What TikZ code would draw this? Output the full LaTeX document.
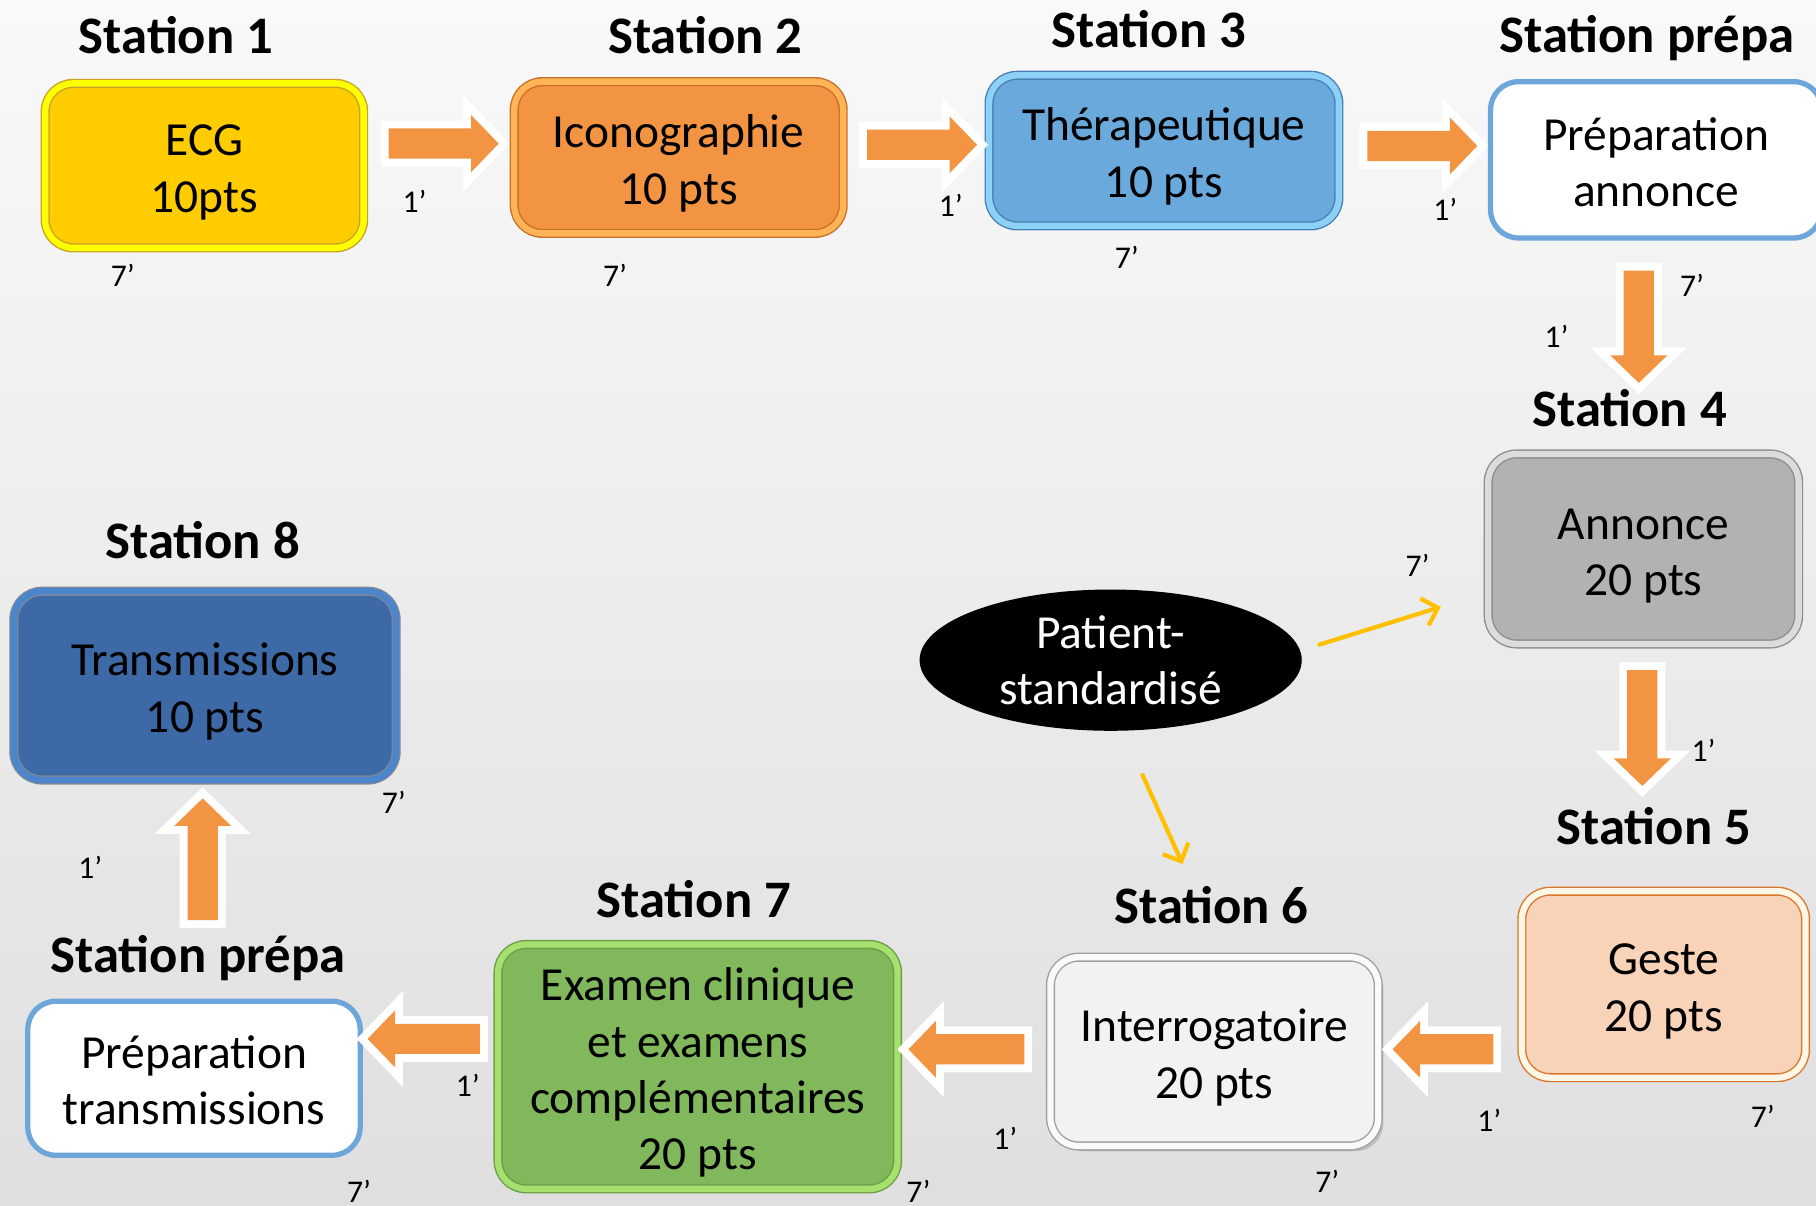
\documentclass[tikz,border=0pt]{standalone}
\usepackage{fontspec}
\setmainfont{Carlito}
\usetikzlibrary{shapes.geometric,shapes.arrows,arrows.meta,shadows}

\definecolor{bgtop}{HTML}{F9F9F9}
\definecolor{bgbottom}{HTML}{DFDFDF}
\definecolor{arroworange}{HTML}{F29442}
\definecolor{patyellow}{HTML}{FFC000}
\definecolor{ecgfill}{HTML}{FFCC00}
\definecolor{ecginner}{HTML}{FFFF00}
\definecolor{ecgouter}{HTML}{C9A227}
\definecolor{iconfill}{HTML}{F29442}
\definecolor{iconinner}{HTML}{FFB455}
\definecolor{iconouter}{HTML}{C8702A}
\definecolor{therfill}{HTML}{6AA9DC}
\definecolor{therinner}{HTML}{8CD2F6}
\definecolor{therouter}{HTML}{4A7FB5}
\definecolor{prepablue}{HTML}{6CA6DA}
\definecolor{annfill}{HTML}{B2B2B2}
\definecolor{anninner}{HTML}{DCDCDC}
\definecolor{annouter}{HTML}{8E8E8E}
\definecolor{gestefill}{HTML}{F8D3B8}
\definecolor{gesteinner}{HTML}{FFF6E6}
\definecolor{gesteouter}{HTML}{D9762A}
\definecolor{interfill}{HTML}{F2F2F2}
\definecolor{interinner}{HTML}{FAFAFA}
\definecolor{interouter}{HTML}{A0A0A0}
\definecolor{examfill}{HTML}{80B85B}
\definecolor{examinner}{HTML}{A6E06E}
\definecolor{examouter}{HTML}{6C9E48}
\definecolor{transfill}{HTML}{3D6AA6}
\definecolor{transinner}{HTML}{4B86CC}
\definecolor{transouter}{HTML}{7C8798}

\newcommand{\px}{0.3295pt}
\newcommand{\boxfont}{\fontsize{13.5}{16}\selectfont}
\newcommand{\titlefont}{\fontsize{15}{18}\selectfont\bfseries}
\newcommand{\minfont}{\fontsize{9}{11}\selectfont}

\tikzset{
  station/.style={rounded corners=8pt, align=center, font=\boxfont, inner sep=0pt,
    text height=26.5pt, text depth=0pt},
  fourlines/.style={text height=58.5pt, text depth=0pt},
  rim/.style n args={3}{fill=#1, draw=#2, double=#3, line width=0.4pt, double distance=1.8pt},
  prepabox/.style={station, fill=white, draw=prepablue, line width=1.5pt},
  stationtitle/.style={font=\titlefont, anchor=base},
  timelabel/.style={font=\minfont},
  flowarrow/.style={single arrow, anchor=tail, fill=arroworange, inner xsep=0pt, inner ysep=4.1pt,
    single arrow head extend=3.8pt, single arrow tip angle=92,
    preaction={draw=white, line width=4.5pt}},
  patientlink/.style={draw=patyellow, line width=1.2pt, -{Straight Barb[length=4pt, width=8pt]}}
}

\begin{document}
\begin{tikzpicture}[x=0.01158cm, y=-0.01158cm]
  % background
  \shade[top color=bgtop, bottom color=bgbottom] (0,0) rectangle (1568,1041);
  \useasboundingbox (0,0) rectangle (1568,1041);

  % titles
  \node[stationtitle] (t1) at (152,46) {Station 1};
  \node[stationtitle] (t2) at (609,46) {Station 2};
  \node[stationtitle] (t3) at (992,41) {Station 3};
  \node[stationtitle] (tp1) at (1422,45) {Station prépa};
  \node[stationtitle] (t4) at (1407,368) {Station 4};
  \node[stationtitle] (t5) at (1428,729) {Station 5};
  \node[stationtitle] (t6) at (1046,797) {Station 6};
  \node[stationtitle] (t7) at (599,792) {Station 7};
  \node[stationtitle] (tp2) at (171,840) {Station prépa};
  \node[stationtitle] (t8) at (175,482) {Station 8};

  % stations
  \node[station, rim={ecgfill}{ecgouter}{ecginner}, minimum width=275*\px, minimum height=142*\px]
    (s1) at (176.5,143) {ECG\\10pts};
  \node[station, rim={iconfill}{iconouter}{iconinner}, minimum width=284*\px, minimum height=131*\px]
    (s2) at (586,136) {Iconographie\\10 pts};
  \node[station, rim={therfill}{therouter}{therinner}, minimum width=302*\px, minimum height=130*\px]
    (s3) at (1005,130) {Thérapeutique\\10 pts};
  \node[prepabox, minimum width=286*\px, minimum height=135*\px]
    (p1) at (1430,138) {Préparation\\annonce};
  \node[station, rim={annfill}{annouter}{anninner}, minimum width=268*\px, minimum height=164*\px]
    (s4) at (1419,474) {Annonce\\20 pts};
  \node[station, rim={gestefill}{gesteouter}{gesteinner}, minimum width=245*\px, minimum height=161*\px]
    (s5) at (1436.5,850) {Geste\\20 pts};
  \node[station, rim={interfill}{interouter}{interinner}, minimum width=283*\px, minimum height=163*\px,
    drop shadow={shadow xshift=1.5pt, shadow yshift=-1.5pt, opacity=0.35}]
    (s6) at (1048.5,908) {Interrogatoire\\20 pts};
  \node[station, fourlines, rim={examfill}{examouter}{examinner}, minimum width=345*\px, minimum height=211*\px]
    (s7) at (602.5,921) {Examen clinique\\et examens\\complémentaires\\20 pts};
  \node[prepabox, minimum width=287*\px, minimum height=133*\px]
    (p2) at (167.5,931) {Préparation\\transmissions};
  \node[station, rim={transfill}{transouter}{transinner}, minimum width=330*\px, minimum height=163*\px]
    (s8) at (177,592) {Transmissions\\10 pts};

  % patient
  \node[ellipse, fill=black, text=white, font=\boxfont, align=center, inner sep=0pt,
    minimum width=330*\px, minimum height=122*\px] (ps) at (959,570) {Patient-\\standardisé};

  % block arrows (placed by their tail)
  \node[flowarrow, minimum height=95*\px] (a1) at (335,124) {};
  \node[flowarrow, minimum height=95*\px] (a2) at (748,125) {};
  \node[flowarrow, minimum height=95*\px] (a3) at (1180,126) {};
  \node[flowarrow, minimum height=97*\px, rotate=-90] (a4) at (1415,233) {};
  \node[flowarrow, minimum height=100*\px, rotate=-90] (a5) at (1418,578) {};
  \node[flowarrow, minimum height=87*\px, rotate=180] (a6) at (1290,906) {};
  \node[flowarrow, minimum height=100*\px, rotate=180] (a7) at (885,906) {};
  \node[flowarrow, minimum height=97*\px, rotate=180] (a8) at (415,897) {};
  \node[flowarrow, minimum height=105*\px, rotate=90] (a9) at (175,795) {};

  % patient links
  \coordinate (y1a) at (1138,557);
  \coordinate (y1b) at (1244,524);
  \coordinate (y2a) at (986,668);
  \coordinate (y2b) at (1021,746);
  \draw[patientlink] (y1a) -- (y1b);
  \draw[patientlink] (y2a) -- (y2b);

  % times
  \foreach \x/\y [count=\i] in {358/174, 821/177, 1248/181, 1344/290, 1471/648,
      1286/967, 868/983, 404/937, 78/749}
    \node[timelabel] (one\i) at (\x,\y) {1’};
  \foreach \x/\y [count=\i] in {106/238, 531/238, 973/222, 1461/246, 1224/488,
      340/693, 1522/964, 1146/1020, 793/1029, 310/1029}
    \node[timelabel] (seven\i) at (\x,\y) {7’};
\end{tikzpicture}
\end{document}
